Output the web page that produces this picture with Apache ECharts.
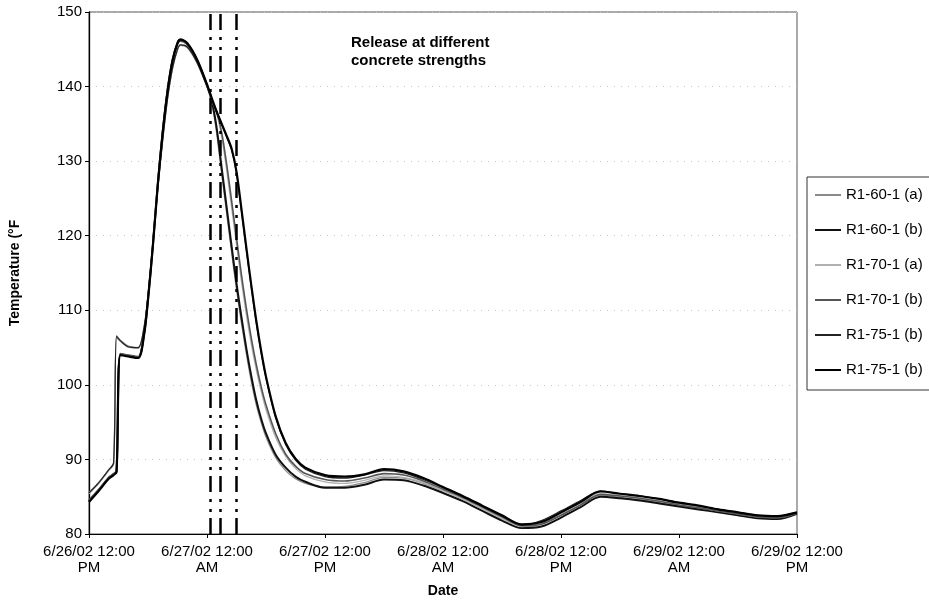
<!DOCTYPE html>
<html lang="en">
<head>
<meta charset="UTF-8">
<title>Release at different concrete strengths</title>
<script src="https://cdn.jsdelivr.net/npm/echarts@6/dist/echarts.min.js"></script>
<style>
    html, body { margin: 0; padding: 0; background: #fff; }
    #chart { width: 929px; height: 605px; }
</style>
</head>
<body>
<div id="chart"></div>
<script>
// hours after 6/26/02 12:00 PM
const hours = [0, 1, 2, 2.5, 2.8, 3.2, 4, 5, 5.6, 6, 6.5, 7, 7.5, 8, 8.5, 9, 9.3, 10, 11, 12,
    12.5, 13, 13.5, 14, 14.5, 15, 15.5, 16, 16.5, 17, 17.5, 18, 19, 20, 21, 22,
    24, 26, 28, 30, 32, 34, 36, 38, 40, 42, 44, 46, 48, 50, 52, 54, 56, 58, 60, 62, 64, 66, 68, 70, 72];

const r60a = [85.6, 86.9, 88.6, 89.5, 106.6, 106.0, 105.2, 105.0, 107.8, 112.0, 119.0, 126.5, 133.0, 138.6, 142.6, 145.0, 145.6, 145.3, 143.2, 140.0,
    137.7, 133.6, 128.2, 123.0, 117.8, 112.8, 108.3, 104.2, 100.5, 97.4, 95.0, 93.0, 90.2, 88.5, 87.4, 86.8,
    86.3, 86.4, 86.9, 87.6, 87.5, 86.8, 85.8, 84.7, 83.4, 82.1, 81.0, 81.4, 82.6, 83.9, 85.2, 84.9, 84.6, 84.2, 83.8, 83.4, 83.0, 82.6, 82.2, 82.1, 82.8];
const r60b = [84.4, 85.9, 87.5, 88.0, 88.4, 104.1, 103.9, 103.7, 106.8, 111.5, 118.8, 127.0, 134.0, 139.6, 143.6, 145.9, 146.3, 145.7, 143.5, 140.2,
    138.0, 134.3, 129.0, 123.8, 118.6, 113.6, 109.1, 104.9, 101.2, 98.0, 95.5, 93.5, 90.6, 88.9, 87.7, 87.0,
    86.2, 86.2, 86.6, 87.3, 87.2, 86.5, 85.5, 84.4, 83.1, 81.8, 80.8, 81.0, 82.2, 83.6, 85.0, 84.8, 84.5, 84.1, 83.7, 83.3, 82.9, 82.5, 82.1, 82.0, 82.7];
const r70a = [85.4, 86.8, 88.5, 89.4, 106.3, 105.8, 105.1, 104.9, 107.6, 111.8, 118.8, 126.3, 132.8, 138.4, 142.4, 144.9, 145.5, 145.2, 143.1, 139.9,
    138.1, 136.3, 133.2, 128.8, 123.8, 118.8, 113.9, 109.4, 105.5, 102.1, 99.2, 96.7, 92.9, 90.4, 88.8, 87.8,
    87.0, 86.8, 87.2, 87.8, 87.6, 86.9, 85.8, 84.7, 83.4, 82.1, 81.0, 81.5, 82.8, 84.1, 85.4, 85.1, 84.8, 84.4, 84.0, 83.6, 83.1, 82.7, 82.3, 82.2, 82.8];
const r70b = [84.6, 86.0, 87.6, 88.1, 88.5, 104.2, 104.0, 103.8, 106.9, 111.6, 118.9, 127.1, 134.1, 139.6, 143.5, 145.7, 146.1, 145.6, 143.4, 140.1,
    138.2, 136.6, 133.8, 129.6, 124.7, 119.7, 114.8, 110.3, 106.3, 102.8, 99.8, 97.3, 93.4, 90.7, 89.1, 88.1,
    87.3, 87.1, 87.5, 88.1, 87.9, 87.1, 86.0, 84.9, 83.6, 82.3, 81.1, 81.3, 82.5, 83.9, 85.3, 85.1, 84.8, 84.4, 83.9, 83.5, 83.1, 82.7, 82.3, 82.2, 82.8];
const r75b1 = [85.5, 86.9, 88.6, 89.5, 106.5, 105.9, 105.1, 105.0, 107.7, 111.9, 118.9, 126.4, 132.9, 138.5, 142.5, 145.0, 145.6, 145.3, 143.2, 140.0,
    138.2, 136.4, 134.8, 133.2, 131.5, 128.3, 123.3, 118.1, 113.1, 108.4, 104.4, 100.9, 95.5, 92.0, 89.9, 88.7,
    87.7, 87.5, 87.9, 88.5, 88.2, 87.3, 86.2, 85.0, 83.7, 82.4, 81.2, 81.8, 83.1, 84.5, 85.8, 85.4, 85.1, 84.7, 84.2, 83.8, 83.3, 82.9, 82.5, 82.4, 82.9];
const r75b2 = [84.3, 85.8, 87.4, 87.9, 88.3, 104.0, 103.8, 103.6, 106.7, 111.4, 118.7, 126.9, 133.9, 139.5, 143.5, 145.8, 146.3, 145.8, 143.6, 140.3,
    138.4, 136.6, 135.0, 133.4, 131.7, 128.6, 123.6, 118.4, 113.4, 108.7, 104.6, 101.1, 95.7, 92.2, 90.1, 88.9,
    87.9, 87.7, 88.0, 88.7, 88.4, 87.5, 86.3, 85.1, 83.8, 82.5, 81.3, 81.6, 82.9, 84.3, 85.7, 85.4, 85.1, 84.7, 84.2, 83.8, 83.3, 82.9, 82.5, 82.4, 82.9];

const seriesNames = ['R1-60-1 (a)', 'R1-60-1 (b)', 'R1-70-1 (a)', 'R1-70-1 (b)', 'R1-75-1 (b)', 'R1-75-1 (b) '];
const tickLabels = ['6/26/02 12:00\nPM', '6/27/02 12:00\nAM', '6/27/02 12:00\nPM', '6/28/02 12:00\nAM',
    '6/28/02 12:00\nPM', '6/29/02 12:00\nAM', '6/29/02 12:00\nPM'];
// release times (hours)
const releaseHours = [12.3, 13.3, 14.95];

const font = 'Liberation Sans, Arial, sans-serif';
const colors = ['#8a8a8a', '#111111', '#b0b0b0', '#555555', '#222222', '#000000'];
const widths = [1.3, 2, 1.3, 1.6, 1.2, 2.2];
const values = [r60a, r60b, r70a, r70b, r75b1, r75b2];

const chart = echarts.init(document.getElementById('chart'), null, { renderer: 'canvas' });

const series = values.map((vals, k) => ({
    name: seriesNames[k],
    type: 'line',
    data: vals.map((v, i) => [hours[i], v]),
    showSymbol: false,
    smooth: 0.3,
    color: colors[k],
    lineStyle: { color: colors[k], width: widths[k] },
    animation: false
}));

series[5].markLine = {
    silent: true,
    symbol: ['none', 'none'],
    label: { show: false },
    animation: false,
    lineStyle: { color: '#000', width: 2.5, type: [16, 6, 3, 7, 3, 7] },
    data: releaseHours.map(h => ({ xAxis: h }))
};

chart.setOption({
    backgroundColor: '#fff',
    animation: false,
    title: {
        text: 'Release at different\nconcrete strengths',
        left: 346,
        top: 29,
        textStyle: { fontFamily: font, fontSize: 15, fontWeight: 'bold', color: '#000', lineHeight: 18 }
    },
    legend: {
        orient: 'vertical',
        left: 807,
        top: 177,
        itemGap: 19,
        itemWidth: 26,
        itemHeight: 2,
        icon: 'rect',
        padding: [10, 40, 12, 8],
        backgroundColor: '#fff',
        borderColor: '#333',
        borderWidth: 1,
        borderRadius: 0,
        textStyle: { fontFamily: font, fontSize: 15, color: '#000', lineHeight: 16 },
        data: seriesNames
    },
    grid: {
        left: 89, right: 132, top: 12, bottom: 71,
        outerBoundsMode: 'none',
        show: true, borderColor: '#555', borderWidth: 1, backgroundColor: 'transparent'
    },
    xAxis: {
        type: 'value',
        min: 0, max: 72, interval: 12,
        name: 'Date',
        nameLocation: 'middle',
        nameGap: 50,
        nameTextStyle: { fontFamily: font, fontSize: 14, fontWeight: 'bold', color: '#000' },
        axisLine: { lineStyle: { color: '#000', width: 1 } },
        axisTick: { show: true, inside: false, length: 4, lineStyle: { color: '#000' } },
        axisLabel: {
            fontFamily: font, fontSize: 15, color: '#000', lineHeight: 16, margin: 10,
            formatter: v => tickLabels[Math.round(v / 12)]
        },
        splitLine: { show: false }
    },
    yAxis: {
        type: 'value',
        min: 80, max: 150, interval: 10,
        name: 'Temperature (°F',
        nameLocation: 'middle',
        nameGap: 67,
        nameTextStyle: { fontFamily: font, fontSize: 14, fontWeight: 'bold', color: '#000' },
        axisLine: { show: true, lineStyle: { color: '#000', width: 1.3 } },
        axisTick: { show: true, length: 4, lineStyle: { color: '#000' } },
        axisLabel: { fontFamily: font, fontSize: 15, color: '#000', margin: 7 },
        splitLine: { show: true, lineStyle: { color: '#c4c4c4', width: 1, type: [1, 6] } }
    },
    series: series
});
</script>
</body>
</html>
